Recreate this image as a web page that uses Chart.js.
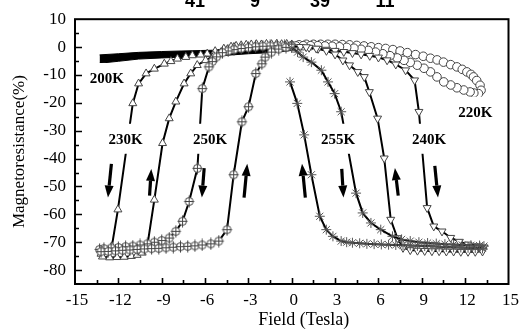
<!DOCTYPE html>
<html>
<head>
<meta charset="utf-8">
<script src="https://cdn.jsdelivr.net/npm/chart.js@4.4.1/dist/chart.umd.min.js"></script>
<style>
  html, body { margin: 0; padding: 0; background: #fff; }
  #wrap { width: 523px; height: 336px; }
</style>
</head>
<body>
<div id="wrap"><canvas id="mr" width="523" height="336"></canvas></div>
<script>
// ---- axis tick labels ----
const xTickLabels = [-15, -12, -9, -6, -3, 0, 3, 6, 9, 12, 15];
const yTickLabels = [10, 0, -10, -20, -30, -40, -50, -60, -70, -80];
const headerNumbers = ['41', '9', '39', '11'];

// ---- field sweeps: [field (T), MR (%)] in sweep order ----
// 200 K: dense data forming a solid band (upper / lower edge)
const band200Upper = [[-13.3,-2.8],[-12,-2.4],[-10.6,-1.9],[-9,-1.6],[-7.6,-1.4],[-6,-1.2],[-4.4,-1.0],[-3,-0.6],[-1.5,-0.2],[-0.7,0.2],[0,0.8]];
const band200Lower = [[-13.3,-5.8],[-12,-5.1],[-10.6,-4.3],[-9,-3.9],[-7.6,-3.6],[-6,-3.3],[-4.4,-2.9],[-3,-2.4],[-1.5,-2.0],[-0.7,-1.6],[0,-1.2]];

// 230 K
const loop230 = [
  [0,0.9],[-0.35,1.1],[-0.7,1.0],[-1.05,1.1],[-1.4,1.0],[-1.75,1.1],[-2.1,0.9],[-2.45,1.0],[-2.8,0.9],[-3.15,0.8],
  [-3.5,0.6],[-3.85,0.4],[-4.2,0.1],[-4.7,-0.6],[-5.3,-1.5],[-5.85,-2.4],[-6.3,-2.75],[-6.88,-3.0],[-7.33,-3.6],
  [-7.91,-4.2],[-8.36,-5.1],[-8.82,-6.0],[-9.51,-7.8],[-10.08,-9.5],[-10.6,-13.1],[-11.0,-20.2],[-12.03,-58.3],
  [-12.45,-71.5],[-12.85,-73.4],[-13.2,-74.2],
  [-13.1,-75.2],[-12.6,-75.5],[-12.1,-75.4],[-11.6,-75.3],[-11.1,-75.0],[-10.7,-74.6],[-10.35,-73.8],[-10.0,-71.5],
  [-9.51,-54.8],[-8.94,-34.5],[-8.48,-25.6],[-8.02,-19.6],[-7.45,-13.1],[-6.99,-9.5],[-6.54,-6.5],[-5.96,-4.75],
  [-5.4,-3.2],[-4.9,-1.9],[-4.45,-0.8],[-4.0,0.0]
];

// 250 K
const loop250 = [
  [0,0.3],[-0.5,0.4],[-1.0,0.5],[-1.5,0.4],[-2.0,0.3],[-2.5,0.1],[-3.0,-0.2],[-3.5,-0.5],[-4.0,-0.9],[-4.4,-1.4],
  [-4.8,-2.0],[-5.2,-3.5],[-5.5,-5.2],[-5.73,-7.1],[-6.19,-14.9],[-6.53,-43.5],[-7.1,-55.4],[-7.56,-62.5],
  [-8.02,-66.1],[-8.48,-68.5],[-9.0,-69.4],[-9.51,-70.0],[-10.0,-70.6],[-10.5,-71.0],[-11.0,-71.4],[-11.5,-71.6],
  [-12.0,-71.9],[-12.5,-72.1],[-13.0,-72.3],[-13.3,-72.6],
  [-13.2,-73.4],[-12.7,-73.3],[-12.2,-73.1],[-11.7,-72.9],[-11.2,-72.8],[-10.7,-72.6],[-10.2,-72.4],[-9.7,-72.3],
  [-9.2,-72.2],[-8.7,-72.0],[-8.2,-71.8],[-7.7,-71.6],[-7.2,-71.5],[-6.7,-71.3],[-6.2,-71.0],[-5.6,-70.6],
  [-5.05,-69.6],[-4.48,-65.5],[-4.02,-45.8],[-3.45,-26.8],[-2.99,-21.4],[-2.49,-9.5],[-2.07,-6.0],[-1.84,-3.6],
  [-1.4,-1.8],[-0.9,-0.7],[-0.4,-0.1]
];

// 255 K
const loop255 = [
  [0,-0.3],[0.4,-1.8],[0.79,-3.6],[1.36,-5.4],[2.05,-8.3],[2.51,-12.5],[2.97,-16.7],[3.42,-23.2],[4.45,-52.4],
  [4.91,-59.5],[5.48,-63.1],[6.16,-65.5],[6.97,-67.9],[7.6,-69.0],[8.2,-69.6],[8.8,-70.0],[9.4,-70.3],[10.0,-70.5],
  [10.6,-70.7],[11.2,-70.8],[11.8,-71.0],[12.4,-71.1],[13.0,-71.2],[13.3,-71.4],
  [13.2,-72.2],[12.7,-72.1],[12.2,-72.0],[11.7,-71.9],[11.2,-71.8],[10.7,-71.7],[10.2,-71.6],[9.7,-71.5],[9.2,-71.4],
  [8.7,-71.3],[8.2,-71.2],[7.7,-71.1],[7.2,-71.0],[6.7,-70.9],[6.2,-70.8],[5.7,-70.7],[5.2,-70.6],[4.7,-70.4],
  [4.2,-70.2],[3.8,-70.0],[3.42,-69.6],[2.85,-67.9],[2.39,-65.5],[1.94,-60.7],[1.36,-45.8],[0.86,-31.5],
  [0.38,-20.2],[-0.12,-12.5]
];

// 240 K
const loop240 = [
  [0,0.2],[0.6,0.1],[1.2,-0.2],[1.82,-0.6],[2.4,-0.9],[3.0,-1.3],[3.6,-1.7],[4.2,-2.1],[4.8,-2.6],[5.4,-3.1],
  [6.0,-3.7],[6.6,-4.7],[7.2,-6.2],[7.88,-8.3],[8.5,-11.9],[8.8,-23.2],[9.37,-57.7],[9.83,-64.3],[10.4,-66.1],
  [11.0,-68.4],[11.6,-69.8],[12.2,-70.8],[12.8,-71.4],[13.3,-71.8],
  [13.2,-73.3],[12.7,-73.4],[12.2,-73.4],[11.7,-73.4],[11.2,-73.3],[10.7,-73.3],[10.2,-73.2],[9.7,-73.2],
  [9.2,-73.1],[8.7,-73.0],[8.2,-72.8],[7.7,-72.0],[7.31,-68.5],[6.85,-61.9],[6.4,-39.9],[5.94,-25.6],[5.37,-16.1],
  [5.02,-10.7],[4.57,-8.9],[4.0,-6.5],[3.54,-4.75],[3.0,-2.6],[2.4,-1.3],[1.7,-0.5],[1.0,0.0]
];

// 220 K
const loop220 = [
  [0,0.5],[0.5,0.8],[1,1.0],[1.5,1.0],[2,1.0],[2.5,1.0],[3,1.0],[3.5,0.9],[4,0.8],[4.5,0.6],[5,0.4],[5.5,0.1],
  [6,-0.2],[6.5,-0.5],[7,-0.9],[7.5,-1.4],[8,-2.0],[8.57,-2.7],[9.1,-3.3],[9.6,-4.0],[10.06,-4.6],[10.5,-5.4],
  [11,-6.3],[11.43,-7.1],[11.8,-8.0],[12.12,-8.9],[12.4,-9.8],[12.58,-10.7],[12.8,-12.0],[13.03,-13.7],
  [13.1,-15.5],[12.92,-16.7],[12.6,-16.5],[12.34,-16.1],[11.9,-15.4],[11.43,-14.6],[11.0,-13.6],[10.52,-12.5],
  [10.05,-10.7],[9.6,-8.9],[9.15,-7.6],[8.68,-6.5],[8.2,-5.5],[7.77,-4.75],[7.3,-3.9],[6.8,-3.1],[6.3,-2.4],
  [5.8,-1.8],[5.3,-1.2],[4.8,-0.8],[4.3,-0.4],[3.8,-0.1],[3.3,0.1],[2.8,0.3],[2.3,0.4],[1.8,0.5],[1.3,0.5],
  [0.8,0.5],[0.3,0.4]
];

// temperature labels, placed in data units
const curveLabels = [
  { text: '200K', x: -12.8, y: -11.1 },
  { text: '230K', x: -11.5, y: -32.9 },
  { text: '250K', x: -5.66, y: -32.9 },
  { text: '255K', x: 3.2,   y: -32.9 },
  { text: '240K', x: 9.5,   y: -32.9 },
  { text: '220K', x: 12.7,  y: -23.2 }
];

// sweep-direction arrows (data units); up = MR recovering
const sweepArrows = [
  { xTop: -12.48, xBot: -12.72, yTop: -41.9, yBot: -54.0, up: false },
  { xTop: -9.72,  xBot: -9.84,  yTop: -43.7, yBot: -53.3, up: true  },
  { xTop: -6.06,  xBot: -6.22,  yTop: -43.4, yBot: -54.0, up: false },
  { xTop: -3.08,  xBot: -3.30,  yTop: -41.9, yBot: -54.0, up: true  },
  { xTop: 0.71,   xBot: 0.94,   yTop: -41.9, yBot: -54.0, up: true  },
  { xTop: 3.46,   xBot: 3.58,   yTop: -43.7, yBot: -54.0, up: false },
  { xTop: 7.14,   xBot: 7.37,   yTop: -43.4, yBot: -53.3, up: true  },
  { xTop: 9.90,   xBot: 10.12,  yTop: -42.6, yBot: -54.0, up: false }
];

const toXY = pts => pts.map(([x, y]) => ({ x, y }));
const SERIF = "'Liberation Serif', 'Times New Roman', serif";

// circle with a cross through it, used as a marker
function crossedCircle() {
  const c = document.createElement('canvas');
  c.width = 13; c.height = 13;
  const g = c.getContext('2d');
  g.strokeStyle = '#444'; g.lineWidth = 1; g.fillStyle = '#fff';
  g.beginPath(); g.arc(6.5, 6.5, 4, 0, Math.PI * 2); g.fill(); g.stroke();
  g.beginPath(); g.moveTo(6.5, 0.5); g.lineTo(6.5, 12.5); g.moveTo(1.5, 6.5); g.lineTo(11.5, 6.5); g.stroke();
  return c;
}

function series(label, pts, extra) {
  return Object.assign({
    label,
    data: toXY(pts),
    borderColor: '#000',
    borderWidth: 2,
    pointRadius: 4.6,
    pointBorderColor: '#444',
    pointBackgroundColor: '#fff',
    pointBorderWidth: 1,
    tension: 0,
    fill: false
  }, extra);
}

const decor = {
  id: 'decor',
  afterDatasetsDraw(chart) {
    const { ctx, chartArea: a, scales: { x, y } } = chart;
    ctx.save();

    // temperature labels on white boxes
    ctx.font = 'bold 15px ' + SERIF;
    ctx.textAlign = 'center';
    ctx.textBaseline = 'middle';
    curveLabels.forEach(l => {
      const px = x.getPixelForValue(l.x), py = y.getPixelForValue(l.y);
      const w = ctx.measureText(l.text).width + 8;
      ctx.fillStyle = '#fff';
      ctx.fillRect(px - w / 2, py - 15, w, 30);
      ctx.fillStyle = '#000';
      ctx.fillText(l.text, px, py + 1);
    });

    // arrows
    sweepArrows.forEach(ar => {
      const x1 = x.getPixelForValue(ar.xTop), y1 = y.getPixelForValue(ar.yTop);
      const x2 = x.getPixelForValue(ar.xBot), y2 = y.getPixelForValue(ar.yBot);
      const [tx, ty, bx, by] = ar.up ? [x1, y1, x2, y2] : [x2, y2, x1, y1];
      const ang = Math.atan2(ty - by, tx - bx);
      const headLen = 12, headW = 4.5;
      const hx = tx - Math.cos(ang) * headLen, hy = ty - Math.sin(ang) * headLen;
      ctx.strokeStyle = '#000'; ctx.fillStyle = '#000';
      ctx.lineWidth = 3.2;
      ctx.beginPath(); ctx.moveTo(bx, by); ctx.lineTo(hx, hy); ctx.stroke();
      ctx.beginPath();
      ctx.moveTo(tx, ty);
      ctx.lineTo(hx + Math.sin(ang) * headW, hy - Math.cos(ang) * headW);
      ctx.lineTo(hx - Math.sin(ang) * headW, hy + Math.cos(ang) * headW);
      ctx.closePath(); ctx.fill();
    });

    // frame
    ctx.strokeStyle = '#000';
    ctx.lineWidth = 2;
    ctx.strokeRect(a.left, a.top, a.right - a.left, a.bottom - a.top);

    // inward tick marks
    ctx.lineWidth = 1.6;
    ctx.beginPath();
    for (let v = -80; v < 10; v += 5) {
      const py = Math.round(y.getPixelForValue(v)) + 0.5;
      const len = v % 10 === 0 ? 7 : 4;
      ctx.moveTo(a.left, py); ctx.lineTo(a.left + len, py);
    }
    for (let i = 1; i < 20; i++) {
      const v = -15 + i * 1.5;
      const px = Math.round(x.getPixelForValue(v)) + 0.5;
      const len = i % 2 === 0 ? 6 : 4;
      ctx.moveTo(px, a.bottom); ctx.lineTo(px, a.bottom - len);
    }
    ctx.stroke();
    ctx.restore();
  },
  afterDraw(chart) {
    const { ctx, chartArea: a } = chart;
    ctx.save();
    ctx.fillStyle = '#000';
    ctx.textAlign = 'center';
    ctx.textBaseline = 'middle';
    ctx.font = '18px ' + SERIF;
    ctx.fillText('Field (Tesla)', (a.left + a.right) / 2 + 12, 320);
    // heading numbers cut off by the top edge
    ctx.font = "bold 18px 'Liberation Sans', Arial, sans-serif";
    ctx.textBaseline = 'alphabetic';
    const hx = [195, 255, 320, 385];
    headerNumbers.forEach((t, i) => ctx.fillText(t, hx[i], 7));
    ctx.restore();
  }
};

new Chart(document.getElementById('mr'), {
  type: 'line',
  data: {
    datasets: [
      series('255K', loop255, { pointStyle: 'star', pointRadius: 5, pointBorderColor: '#555' }),
      series('240K', loop240, { pointStyle: 'triangle', pointRotation: 180 }),
      series('250K', loop250, { pointStyle: crossedCircle() }),
      series('230K', loop230, { pointStyle: 'triangle' }),
      series('220K', loop220, { pointStyle: 'circle', pointRadius: 4.3, borderWidth: 1, pointBorderColor: '#444' }),
      { label: '200K', data: toXY(band200Upper), borderColor: '#000', borderWidth: 1, pointRadius: 0, fill: false },
      { label: '200K ', data: toXY(band200Lower), borderColor: '#000', borderWidth: 1, pointRadius: 0,
        backgroundColor: '#000', fill: '-1' }
    ]
  },
  options: {
    responsive: false,
    animation: false,
    devicePixelRatio: 1,
    layout: { padding: { top: 17, right: 12, left: 0, bottom: 0 } },
    plugins: { legend: { display: false }, tooltip: { enabled: false } },
    scales: {
      x: {
        type: 'linear',
        min: -15, max: 15,
        afterBuildTicks: s => { s.ticks = xTickLabels.map(v => ({ value: v })); },
        afterFit: s => { s.height = 52; },
        grid: { display: false, drawTicks: false },
        border: { display: false },
        ticks: { color: '#000', font: { family: SERIF, size: 17 }, padding: 6, labelOffset: 2, maxRotation: 0 }
      },
      y: {
        type: 'linear',
        min: -85, max: 10,
        afterBuildTicks: s => { s.ticks = yTickLabels.map(v => ({ value: v })); },
        afterFit: s => { s.width = 75; },
        grid: { display: false, drawTicks: false },
        border: { display: false },
        ticks: { color: '#000', font: { family: SERIF, size: 17 }, padding: 9 },
        title: { display: true, text: 'Magnetoresistance(%)', color: '#000',
                 font: { family: SERIF, size: 17 }, padding: { top: 9, bottom: 0 } }
      }
    }
  },
  plugins: [decor]
});
</script>
</body>
</html>
